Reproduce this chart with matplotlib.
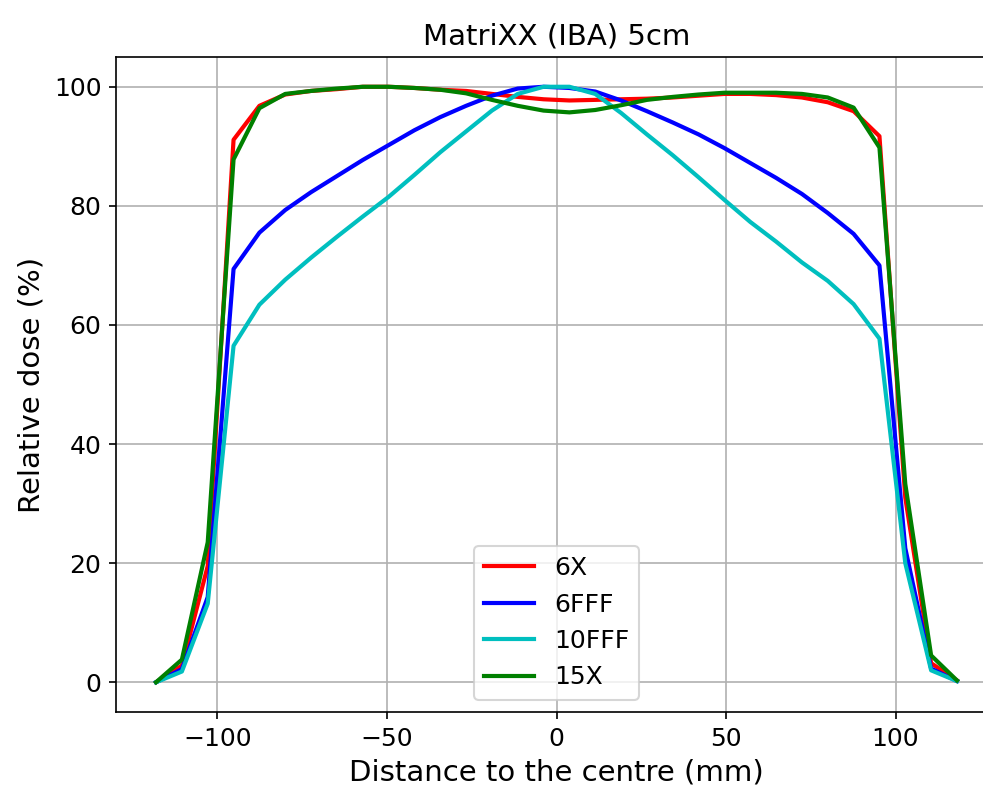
import numpy as np
import matplotlib
matplotlib.use('Agg')
import matplotlib.pyplot as plt

# detector positions (mm)
x_mm = [-118.11, -110.49, -102.87, -95.25, -87.63, -80.01, -72.39, -64.77,
        -57.15, -49.53, -41.91, -34.29, -26.67, -19.05, -11.43, -3.81,
        3.81, 11.43, 19.05, 26.67, 34.29, 41.91, 49.53, 57.15,
        64.77, 72.39, 80.01, 87.63, 95.25, 102.87, 110.49, 118.11]

dose_6x = [0.0, 2.8, 19.5, 91.1, 96.8, 98.7, 99.3, 99.6,
           100.0, 100.0, 99.8, 99.5, 99.3, 98.8, 98.3, 97.9,
           97.7, 97.8, 97.9, 98.0, 98.2, 98.5, 98.8, 98.8,
           98.6, 98.2, 97.4, 95.9, 91.7, 31.0, 3.2, 0.3]

dose_6fff = [0.0, 2.2, 14.3, 69.4, 75.5, 79.3, 82.3, 85.0,
             87.7, 90.2, 92.7, 94.9, 96.8, 98.5, 99.7, 100.0,
             99.8, 99.2, 97.7, 95.9, 94.0, 92.0, 89.7, 87.2,
             84.7, 82.0, 78.8, 75.3, 70.0, 22.5, 2.3, 0.2]

dose_10fff = [0.0, 1.8, 13.2, 56.5, 63.4, 67.6, 71.3, 74.8,
              78.2, 81.5, 85.2, 89.0, 92.5, 96.0, 98.8, 100.0,
              100.0, 98.8, 95.6, 92.0, 88.5, 84.8, 81.0, 77.3,
              74.0, 70.5, 67.4, 63.5, 57.7, 20.0, 2.0, 0.2]

dose_15x = [0.0, 3.8, 23.5, 87.8, 96.4, 98.8, 99.3, 99.7,
            100.0, 100.0, 99.8, 99.5, 98.9, 97.8, 96.8, 96.0,
            95.7, 96.1, 96.9, 97.8, 98.3, 98.7, 99.0, 99.0,
            99.0, 98.8, 98.2, 96.5, 89.8, 33.3, 4.5, 0.3]

labels = ['6X', '6FFF', '10FFF', '15X']
colors = ['r', 'b', 'c', 'g']

plt.rcParams['font.size'] = 12

fig = plt.figure(figsize=(983 / 150, 792 / 150), dpi=150)
# axes run a bit past the right edge, like the reference crop
ax = fig.add_axes([116 / 983, 1 - 712 / 792, (997 - 116) / 983, (712 - 57) / 792])

for d, lab, c in zip([dose_6x, dose_6fff, dose_10fff, dose_15x], labels, colors):
    ax.plot(x_mm, d, color=c, label=lab, linewidth=2)

ax.set_title('MatriXX (IBA) 5cm', fontsize=14)
ax.set_xlabel('Distance to the centre (mm)', fontsize=14)
ax.set_ylabel('Relative dose (%)', fontsize=14)
ax.grid(True)
ax.legend(loc='lower center', fontsize=12)

fig.savefig('out.png', dpi=150)
